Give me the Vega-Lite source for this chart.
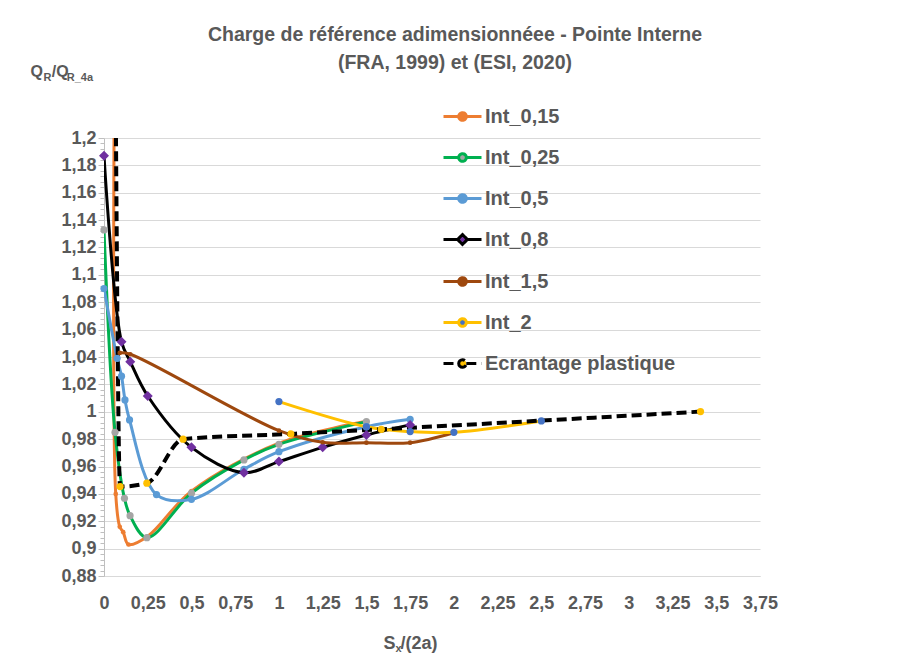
{
  "$schema": "https://vega.github.io/schema/vega-lite/v6.json",
  "width": 656,
  "height": 438,
  "autosize": {"type": "none"},
  "padding": {"left": 104, "top": 138, "right": 144, "bottom": 85},
  "background": "white",
  "config": {"view": {"stroke": null}, "font": "Liberation Sans"},
  "title": {
    "text": ["Charge de référence adimensionnéee - Pointe Interne", "(FRA, 1999) et (ESI, 2020)"],
    "frame": "group", "anchor": "middle", "dx": 23, "offset": -10,
    "fontSize": 19.5, "fontWeight": "bold", "color": "#595959", "lineHeight": 28, "font": "Liberation Sans"
  },
  "data": {"values": [
    {"s": "Int_0,15", "x": 0.062, "y": 1.3},
    {"s": "Int_0,15", "x": 0.067, "y": 0.94},
    {"s": "Int_0,15", "x": 0.09, "y": 0.916},
    {"s": "Int_0,15", "x": 0.11, "y": 0.912},
    {"s": "Int_0,15", "x": 0.14, "y": 0.903},
    {"s": "Int_0,15", "x": 0.25, "y": 0.909},
    {"s": "Int_0,15", "x": 0.5, "y": 0.942},
    {"s": "Int_0,15", "x": 1, "y": 0.977},
    {"s": "Int_0,15", "x": 1.5, "y": 0.993},
    {"s": "Int_0,25", "x": 0, "y": 1.1328},
    {"s": "Int_0,25", "x": 0.063, "y": 0.985},
    {"s": "Int_0,25", "x": 0.117, "y": 0.9368},
    {"s": "Int_0,25", "x": 0.149, "y": 0.9241},
    {"s": "Int_0,25", "x": 0.245, "y": 0.908},
    {"s": "Int_0,25", "x": 0.5, "y": 0.9405},
    {"s": "Int_0,25", "x": 0.8, "y": 0.9648},
    {"s": "Int_0,25", "x": 1, "y": 0.9762},
    {"s": "Int_0,25", "x": 1.5, "y": 0.9928},
    {"s": "Int_0,5", "x": 0, "y": 1.09},
    {"s": "Int_0,5", "x": 0.075, "y": 1.039},
    {"s": "Int_0,5", "x": 0.1, "y": 1.026},
    {"s": "Int_0,5", "x": 0.12, "y": 1.0086},
    {"s": "Int_0,5", "x": 0.146, "y": 0.994},
    {"s": "Int_0,5", "x": 0.3, "y": 0.9395},
    {"s": "Int_0,5", "x": 0.5, "y": 0.936},
    {"s": "Int_0,5", "x": 0.8, "y": 0.958},
    {"s": "Int_0,5", "x": 1, "y": 0.9708},
    {"s": "Int_0,5", "x": 1.5, "y": 0.9891},
    {"s": "Int_0,5", "x": 1.75, "y": 0.9945},
    {"s": "Int_0,8", "x": 0, "y": 1.187},
    {"s": "Int_0,8", "x": 0.1, "y": 1.0512},
    {"s": "Int_0,8", "x": 0.15, "y": 1.0366},
    {"s": "Int_0,8", "x": 0.25, "y": 1.0115},
    {"s": "Int_0,8", "x": 0.5, "y": 0.974},
    {"s": "Int_0,8", "x": 0.8, "y": 0.9555},
    {"s": "Int_0,8", "x": 1, "y": 0.9636},
    {"s": "Int_0,8", "x": 1.25, "y": 0.974},
    {"s": "Int_0,8", "x": 1.5, "y": 0.983},
    {"s": "Int_0,8", "x": 1.75, "y": 0.9904},
    {"s": "Int_1,5", "x": 0.09, "y": 1.043},
    {"s": "Int_1,5", "x": 0.15, "y": 1.042},
    {"s": "Int_1,5", "x": 1, "y": 0.9862},
    {"s": "Int_1,5", "x": 1.25, "y": 0.9777},
    {"s": "Int_1,5", "x": 1.5, "y": 0.9774},
    {"s": "Int_1,5", "x": 1.75, "y": 0.9774},
    {"s": "Int_1,5", "x": 2, "y": 0.9847},
    {"s": "Int_2", "x": 1, "y": 1.0074},
    {"s": "Int_2", "x": 1.5, "y": 0.989},
    {"s": "Int_2", "x": 1.75, "y": 0.9855},
    {"s": "Int_2", "x": 2, "y": 0.985},
    {"s": "Int_2", "x": 2.5, "y": 0.9933},
    {"s": "Ecrantage plastique", "x": 0.063, "y": 1.3},
    {"s": "Ecrantage plastique", "x": 0.092, "y": 0.9453},
    {"s": "Ecrantage plastique", "x": 0.245, "y": 0.9478},
    {"s": "Ecrantage plastique", "x": 0.452, "y": 0.98},
    {"s": "Ecrantage plastique", "x": 1.068, "y": 0.9838},
    {"s": "Ecrantage plastique", "x": 1.585, "y": 0.9872},
    {"s": "Ecrantage plastique", "x": 3.41, "y": 1.0001}
  ]},
  "layer": [
    {
      "transform": [{"filter": "datum.s != 'Ecrantage plastique'"}],
      "mark": {"type": "line", "interpolate": "catmull-rom", "clip": true, "strokeWidth": 3},
      "encoding": {
        "x": {"field": "x", "type": "quantitative",
          "scale": {"domain": [0, 3.75], "nice": false},
          "axis": {
            "orient": "bottom",
            "values": [0, 0.25, 0.5, 0.75, 1, 1.25, 1.5, 1.75, 2, 2.25, 2.5, 2.75, 3, 3.25, 3.5, 3.75],
            "labelExpr": "replace(format(datum.value, '.2~f'), '.', ',')",
            "grid": false, "ticks": false, "domainColor": "#d9d9d9", "domainWidth": 1,
            "labelFont": "Liberation Sans", "labelFontWeight": "bold", "labelFontSize": 18, "labelColor": "#595959",
            "labelPadding": 18, "labelOverlap": false, "labelFlush": false,
            "title": "S\u00a0/(2a)", "titleFont": "Liberation Sans", "titleFontWeight": "bold", "titleFontSize": 18, "titleColor": "#595959",
            "titleX": 279, "titleY": 72, "titleAlign": "left", "titleBaseline": "alphabetic", "titleAnchor": null
          }},
        "y": {"field": "y", "type": "quantitative",
          "scale": {"domain": [0.88, 1.2], "nice": false, "zero": false},
          "axis": {
            "orient": "left",
            "values": [0.88,0.884,0.888,0.892,0.896,0.9,0.904,0.908,0.912,0.916,0.92,0.924,0.928,0.932,0.936,0.94,0.944,0.948,0.952,0.956,0.96,0.964,0.968,0.972,0.976,0.98,0.984,0.988,0.992,0.996,1,1.004,1.008,1.012,1.016,1.02,1.024,1.028,1.032,1.036,1.04,1.044,1.048,1.052,1.056,1.06,1.064,1.068,1.072,1.076,1.08,1.084,1.088,1.092,1.096,1.1,1.104,1.108,1.112,1.116,1.12,1.124,1.128,1.132,1.136,1.14,1.144,1.148,1.152,1.156,1.16,1.164,1.168,1.172,1.176,1.18,1.184,1.188,1.192,1.196,1.2],
            "labelExpr": "abs(datum.value*50 - round(datum.value*50)) < 0.001 ? replace(format(datum.value, '.2~f'), '.', ',') : ''",
            "grid": true, "gridColor": "#d9d9d9", "gridWidth": 1,
            "gridOpacity": {"condition": {"test": "abs(datum.value*50 - round(datum.value*50)) < 0.001", "value": 1}, "value": 0},
            "ticks": true, "tickColor": "#bfbfbf",
            "tickSize": {"condition": {"test": "abs(datum.value*50 - round(datum.value*50)) < 0.001", "value": 6}, "value": 4},
            "domainColor": "#bfbfbf", "domainWidth": 1,
            "labelFont": "Liberation Sans", "labelFontWeight": "bold", "labelFontSize": 18, "labelColor": "#595959",
            "labelPadding": 2, "labelOverlap": false, "labelFlush": false,
            "title": "Q\u00a0\u00a0/Q", "titleFont": "Liberation Sans", "titleFontWeight": "bold", "titleFontSize": 16, "titleColor": "#595959",
            "titleAngle": 0, "titleX": -74, "titleY": -62, "titleAlign": "left", "titleBaseline": "alphabetic", "titleAnchor": null
          }},
        "stroke": {"field": "s", "type": "nominal",
          "scale": {"domain": ["Int_0,15", "Int_0,25", "Int_0,5", "Int_0,8", "Int_1,5", "Int_2", "Ecrantage plastique"],
                    "range": ["#ED7D31", "#00B050", "#5B9BD5", "#000000", "#9E480E", "#FFC000", "#000000"]},
          "legend": {"orient": "none", "legendX": 338, "legendY": -42, "title": null, "padding": 0,
            "symbolSize": 1444, "symbolStrokeWidth": 3,
            "labelFont": "Liberation Sans", "labelFontWeight": "bold", "labelFontSize": 20, "labelColor": "#595959",
            "labelOffset": 2, "labelLimit": 400, "rowPadding": 10,
            "encode": {"symbols": {"update": {
              "shape": {"signal": "datum.value === 'Int_0,8' ? 'M-1,0H-0.26M0.26,0H1M-0.26,0L0,-0.26L0.26,0L0,0.26Z' : 'M-1,0H-0.2M0.2,0H1M-0.2,0A0.2,0.2,0,1,0,0.2,0A0.2,0.2,0,1,0,-0.2,0Z'"},
              "size": {"value": 1444}, "strokeWidth": {"value": 3}, "opacity": {"value": 1}}}}}}
      }
    },
    {
      "transform": [{"filter": "datum.s == 'Ecrantage plastique'"}],
      "mark": {"type": "line", "interpolate": "monotone", "clip": true, "strokeWidth": 4},
      "encoding": {
        "x": {"field": "x", "type": "quantitative", "axis": null},
        "y": {"field": "y", "type": "quantitative", "axis": null},
        "stroke": {"field": "s", "type": "nominal"},
        "strokeDash": {"field": "s", "type": "nominal",
          "scale": {"domain": ["Int_0,15", "Int_0,25", "Int_0,5", "Int_0,8", "Int_1,5", "Int_2", "Ecrantage plastique"],
                    "range": [[1, 0], [1, 0], [1, 0], [1, 0], [1, 0], [1, 0], [10, 5]]},
          "legend": {"orient": "none", "legendX": 338, "legendY": -42, "title": null, "padding": 0,
            "symbolSize": 1444, "symbolStrokeWidth": 3,
            "labelFont": "Liberation Sans", "labelFontWeight": "bold", "labelFontSize": 20, "labelColor": "#595959",
            "labelOffset": 2, "labelLimit": 400, "rowPadding": 10,
            "encode": {"symbols": {"update": {
              "shape": {"signal": "datum.value === 'Int_0,8' ? 'M-1,0H-0.26M0.26,0H1M-0.26,0L0,-0.26L0.26,0L0,0.26Z' : 'M-1,0H-0.2M0.2,0H1M-0.2,0A0.2,0.2,0,1,0,0.2,0A0.2,0.2,0,1,0,-0.2,0Z'"},
              "size": {"value": 1444}, "strokeWidth": {"value": 3}, "opacity": {"value": 1}}}}}}
      }
    },
    {
      "transform": [{"filter": "datum.y <= 1.2"}],
      "mark": {"type": "point", "filled": true, "clip": false, "opacity": 1, "strokeWidth": 0},
      "encoding": {
        "x": {"field": "x", "type": "quantitative",
          "axis": {"orient": "top", "labels": false, "ticks": false, "domain": false, "grid": false,
            "title": "x", "titleFont": "Liberation Sans", "titleFontWeight": "bold", "titleFontSize": 11, "titleColor": "#595959",
            "titleX": 291, "titleY": 513, "titleAlign": "left", "titleBaseline": "alphabetic", "titleAnchor": null}},
        "y": {"field": "y", "type": "quantitative",
          "axis": {"orient": "right", "labels": false, "ticks": false, "domain": false, "grid": false,
            "title": "R\u00a0\u00a0\u00a0\u00a0\u00a0R_4a", "titleFont": "Liberation Sans", "titleFontWeight": "bold", "titleFontSize": 11, "titleColor": "#595959",
            "titleAngle": 0, "titleX": -717, "titleY": -58, "titleAlign": "left", "titleBaseline": "alphabetic", "titleAnchor": null}},
        "fill": {"field": "s", "type": "nominal",
          "scale": {"domain": ["Int_0,15", "Int_0,25", "Int_0,5", "Int_0,8", "Int_1,5", "Int_2", "Ecrantage plastique"],
                    "range": ["#ED7D31", "#A5A5A5", "#5B9BD5", "#7030A0", "#9E480E", "#4472C4", "#FFC000"]},
          "legend": {"orient": "none", "legendX": 338, "legendY": -42, "title": null, "padding": 0,
            "symbolSize": 1444, "symbolStrokeWidth": 3,
            "labelFont": "Liberation Sans", "labelFontWeight": "bold", "labelFontSize": 20, "labelColor": "#595959",
            "labelOffset": 2, "labelLimit": 400, "rowPadding": 10,
            "encode": {"symbols": {"update": {
              "shape": {"signal": "datum.value === 'Int_0,8' ? 'M-1,0H-0.26M0.26,0H1M-0.26,0L0,-0.26L0.26,0L0,0.26Z' : 'M-1,0H-0.2M0.2,0H1M-0.2,0A0.2,0.2,0,1,0,0.2,0A0.2,0.2,0,1,0,-0.2,0Z'"},
              "size": {"value": 1444}, "strokeWidth": {"value": 3}, "opacity": {"value": 1}}}}}},
        "shape": {"condition": {"test": "datum.s === 'Int_0,8'", "value": "diamond"}, "value": "circle"},
        "size": {"condition": [
          {"test": "datum.s === 'Int_0,8'", "value": 100},
          {"test": "datum.s === 'Int_0,15' || datum.s === 'Int_1,5'", "value": 22}
        ], "value": 52}
      }
    }
  ],
  "resolve": {
    "axis": {"x": "independent", "y": "independent"}
  }
}
